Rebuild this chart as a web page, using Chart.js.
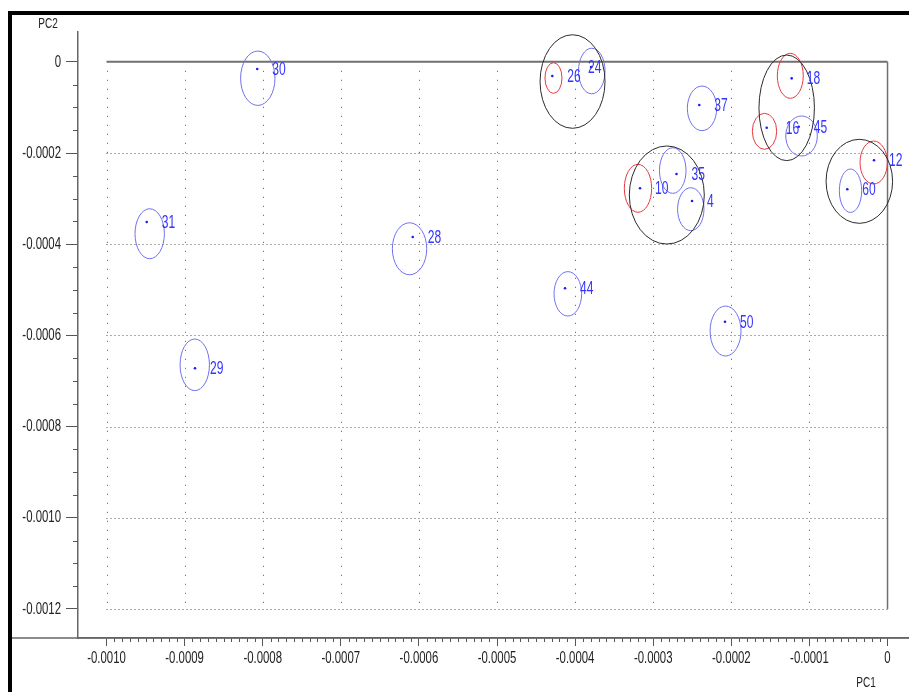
<!DOCTYPE html>
<html>
<head>
<meta charset="utf-8">
<title>PC1 / PC2</title>
<script src="https://cdn.jsdelivr.net/npm/chart.js@4.4.0/dist/chart.umd.min.js"></script>
<style>
  html, body { margin: 0; padding: 0; background: #fff; }
  #wrap { position: relative; width: 909px; height: 692px; overflow: hidden; }
  #c { position: absolute; left: 0; top: 0; }
  #frame { position: absolute; left: 8px; top: 11px; right: -10px; bottom: -10px;
           border-top: 4px solid #000; border-left: 4px solid #000; }
</style>
</head>
<body>
<div id="wrap">
  <canvas id="c" width="909" height="692"></canvas>
  <div id="frame"></div>
</div>
<script>
// Sample scores on the first two principal components
const sampleIds = ['30','31','29','28','44','50','26','24','37','18','16','45','10','35','4','12','60'];
const pc1 = [-0.000807,-0.0009485,-0.0008867,-0.0006079,-0.0004129,-0.0002081,-0.0004292,-0.0003796,-0.000241,-0.0001227,-0.0001547,-0.0001137,-0.0003169,-0.0002702,-0.0002503,-0.0000173,-0.0000515];
const pc2 = [-0.0000158,-0.0003513,-0.0006721,-0.0003842,-0.0004967,-0.00057,-0.0000311,-0.0000114,-0.0000947,-0.0000362,-0.0001445,-0.0001423,-0.0002774,-0.000246,-0.0003053,-0.000216,-0.0002796];
// group of each sample: 'r' = red outline, 'b' = blue outline
const sampleGroup = ['b','b','b','b','b','b','r','b','b','r','r','b','r','b','b','r','b'];

// per-sample confidence ellipses (centre and half-axes, PC units)
const ellCx = [-0.0008063,-0.0009447,-0.000887,-0.000612,-0.0004093,-0.0002074,-0.0004277,-0.0003787,-0.0002375,-0.0001245,-0.0001575,-0.0001101,-0.0003195,-0.000275,-0.0002519,-0.0000177,-0.0000474];
const ellCy = [-0.000036,-0.000377,-0.0006645,-0.00041,-0.0005088,-0.0005904,-0.0000355,-0.0000202,-0.000102,-0.0000307,-0.0001524,-0.0001627,-0.0002774,-0.0002384,-0.0003232,-0.0002208,-0.0002827];
const ellRx = [0.000022,0.0000188,0.0000188,0.000022,0.0000177,0.0000198,0.0000109,0.000017,0.0000188,0.0000166,0.0000156,0.0000202,0.0000175,0.000017,0.0000169,0.0000175,0.0000143];
const ellRy = [0.0000596,0.0000548,0.0000566,0.000057,0.0000487,0.0000548,0.0000336,0.00005,0.0000489,0.0000493,0.0000395,0.0000439,0.0000526,0.00005,0.0000471,0.0000471,0.0000476];

// cluster ellipses (26/24, 18/16/45, 10/35/4, 12/60)
const clusterCx = [-0.0004033,-0.0001291,-0.0002826,-0.0000361];
const clusterCy = [-0.0000432,-0.0001009,-0.0002921,-0.0002621];
const clusterRx = [0.0000416,0.0000355,0.000048,0.0000426];
const clusterRy = [0.0001026,0.0001158,0.0001075,0.0000921];

// axis ticks
const xTickValues = [-0.0010,-0.0009,-0.0008,-0.0007,-0.0006,-0.0005,-0.0004,-0.0003,-0.0002,-0.0001,0];
const yTickValues = [0,-0.0002,-0.0004,-0.0006,-0.0008,-0.0010,-0.0012];

const X_MIN = -0.0010365, X_MAX = 0.0000275;
const Y_MIN = -0.0012636, Y_MAX = 0.0000654;

const FONT_FAMILY = '"Liberation Sans", Arial, sans-serif';
const TEXT_SQUEEZE = 0.67;   // narrow lettering
const LABEL_NUDGE = { '24': -18, '16': 4 };

const canvas = document.getElementById('c');
const ctx = canvas.getContext('2d');
// draw every string horizontally condensed around its anchor point
const nativeFillText = ctx.fillText.bind(ctx);
ctx.fillText = function (text, x, y, maxWidth) {
  this.save();
  this.translate(x, y);
  this.scale(TEXT_SQUEEZE, 1);
  if (maxWidth === undefined) nativeFillText(text, 0, 0);
  else nativeFillText(text, 0, 0, maxWidth / TEXT_SQUEEZE);
  this.restore();
};

function tickText(v) {
  return Math.abs(v) < 1e-12 ? '0' : v.toFixed(4);
}

const framePlugin = {
  id: 'frame',
  beforeDatasetsDraw(chart) {
    const c = chart.ctx, xs = chart.scales.x, ys = chart.scales.y;
    const x0 = xs.getPixelForValue(xTickValues[0]);
    const x1 = xs.getPixelForValue(0);
    const y0 = ys.getPixelForValue(0);
    const y1 = ys.getPixelForValue(yTickValues[yTickValues.length - 1]);
    c.save();
    c.strokeStyle = '#555';
    c.lineWidth = 1;
    // dotted grid
    c.setLineDash([1, 8]);
    xTickValues.forEach(v => {
      if (v === 0) return;
      const px = Math.round(xs.getPixelForValue(v)) + 0.5;
      c.beginPath(); c.moveTo(px, y0 + 9); c.lineTo(px, y1); c.stroke();
    });
    c.setLineDash([1, 3]);
    yTickValues.forEach(v => {
      if (v === 0) return;
      const py = Math.round(ys.getPixelForValue(v)) + 0.5;
      c.beginPath(); c.moveTo(x0, py); c.lineTo(x1, py); c.stroke();
    });
    c.setLineDash([]);
    // solid zero lines
    c.strokeStyle = '#707070';
    c.lineWidth = 2;
    c.beginPath(); c.moveTo(x0, y0); c.lineTo(x1, y0); c.stroke();
    c.lineWidth = 1.5;
    c.beginPath(); c.moveTo(x1, y0); c.lineTo(x1, y1); c.stroke();

    // minor ticks
    const area = chart.chartArea;
    c.strokeStyle = '#555';
    c.lineWidth = 1;
    for (let k = -100; k <= 0; k++) {
      if (k % 10 === 0) continue;
      const px = Math.round(xs.getPixelForValue(k * 1e-5)) + 0.5;
      c.beginPath(); c.moveTo(px, area.bottom); c.lineTo(px, area.bottom + 4); c.stroke();
    }
    for (let k = 0; k >= -24; k--) {
      if (k % 4 === 0) continue;
      const py = Math.round(ys.getPixelForValue(k * 5e-5)) + 0.5;
      c.beginPath(); c.moveTo(area.left - 5, py); c.lineTo(area.left, py); c.stroke();
    }
    // x axis line runs on to both edges
    c.strokeStyle = '#666';
    c.lineWidth = 1.5;
    c.beginPath(); c.moveTo(12, area.bottom); c.lineTo(chart.width, area.bottom); c.stroke();

    // ellipses
    c.lineWidth = 1;
    const drawEllipse = (cx, cy, rx, ry, color) => {
      const px = xs.getPixelForValue(cx), py = ys.getPixelForValue(cy);
      const rpx = Math.abs(xs.getPixelForValue(cx + rx) - px);
      const rpy = Math.abs(ys.getPixelForValue(cy + ry) - py);
      c.strokeStyle = color;
      c.beginPath(); c.ellipse(px, py, rpx, rpy, 0, 0, Math.PI * 2); c.stroke();
    };
    sampleIds.forEach((id, i) => {
      drawEllipse(ellCx[i], ellCy[i], ellRx[i], ellRy[i],
        sampleGroup[i] === 'r' ? 'rgb(232,56,62)' : 'rgb(112,112,238)');
    });
    clusterCx.forEach((cx, i) => {
      drawEllipse(cx, clusterCy[i], clusterRx[i], clusterRy[i], '#2a2a2a');
    });
    c.restore();
  },
  afterDatasetsDraw(chart) {
    const c = chart.ctx, xs = chart.scales.x, ys = chart.scales.y;
    const area = chart.chartArea;
    c.save();
    c.font = '18px ' + FONT_FAMILY;
    c.fillStyle = '#3434ff';
    c.textAlign = 'left';
    c.textBaseline = 'middle';
    sampleIds.forEach((id, i) => {
      const px = xs.getPixelForValue(pc1[i]) + 15 + (LABEL_NUDGE[id] || 0);
      const py = ys.getPixelForValue(pc2[i]) + 1;
      c.fillText(id, px, py);
    });
    // axis titles
    c.fillStyle = '#222';
    c.font = '15px ' + FONT_FAMILY;
    c.textAlign = 'center';
    c.fillText('PC2', area.left - 30, 24);
    c.fillText('PC1', 866, 683);
    c.restore();
  }
};

new Chart(ctx, {
  type: 'scatter',
  data: {
    datasets: [{
      data: sampleIds.map((id, i) => ({ x: pc1[i], y: pc2[i] })),
      pointRadius: 1.3,
      pointBorderWidth: 0,
      pointBackgroundColor: '#1c1cf0'
    }]
  },
  options: {
    responsive: false,
    animation: false,
    devicePixelRatio: 1,
    events: [],
    layout: { autoPadding: false, padding: { top: 32, left: 0, right: 0, bottom: 0 } },
    plugins: { legend: { display: false }, tooltip: { enabled: false } },
    scales: {
      x: {
        type: 'linear',
        min: X_MIN, max: X_MAX,
        afterBuildTicks: s => { s.ticks = xTickValues.map(v => ({ value: v })); },
        afterFit: s => { s.height = 54; s.paddingLeft = 0; s.paddingRight = 0; },
        grid: { drawOnChartArea: false, drawTicks: true, tickLength: 8, color: '#555', tickWidth: 1 },
        border: { display: true, color: '#666', width: 1.5 },
        ticks: {
          autoSkip: false, maxRotation: 0, padding: 2,
          color: '#222',
          font: { family: FONT_FAMILY, size: 17 },
          callback: v => tickText(v)
        }
      },
      y: {
        type: 'linear',
        min: Y_MIN, max: Y_MAX,
        afterBuildTicks: s => { s.ticks = yTickValues.map(v => ({ value: v })); },
        afterFit: s => { s.width = 78; s.paddingTop = 0; s.paddingBottom = 0; },
        grid: { drawOnChartArea: false, drawTicks: true, tickLength: 12, color: '#555', tickWidth: 1 },
        border: { display: true, color: '#666', width: 1.5 },
        ticks: {
          autoSkip: false, padding: 5,
          color: '#222',
          font: { family: FONT_FAMILY, size: 17 },
          callback: v => tickText(v)
        }
      }
    }
  },
  plugins: [framePlugin]
});
</script>
</body>
</html>
